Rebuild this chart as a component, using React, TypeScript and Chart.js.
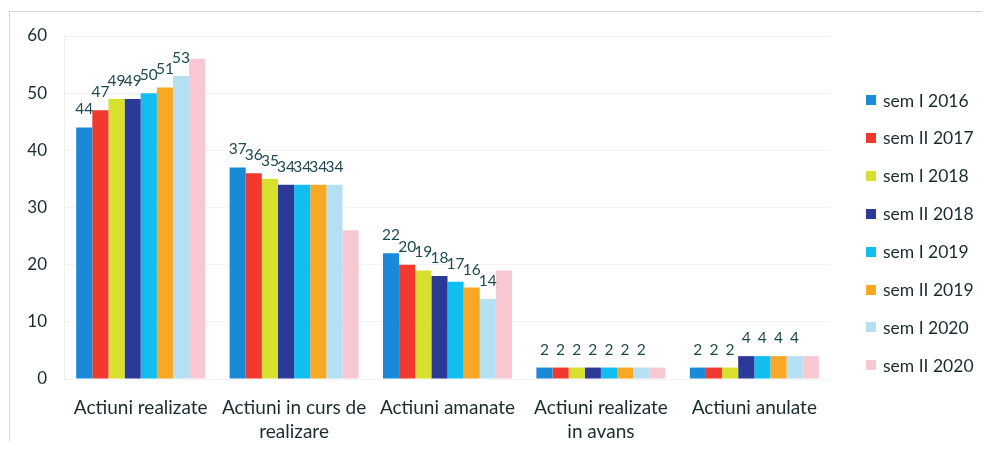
import React, { useEffect, useRef } from "react";
import { Chart, registerables } from "chart.js";

Chart.register(...registerables);

const categories: (string | string[])[] = [
  "Actiuni realizate",
  ["Actiuni in curs de", "realizare"],
  "Actiuni amanate",
  ["Actiuni realizate", "in avans"],
  "Actiuni anulate",
];

const seriesNames = [
  "sem I 2016",
  "sem II 2017",
  "sem I 2018",
  "sem II 2018",
  "sem I 2019",
  "sem II 2019",
  "sem I 2020",
  "sem II 2020",
];

const semI2016 = [44, 37, 22, 2, 2];
const semII2017 = [47, 36, 20, 2, 2];
const semI2018 = [49, 35, 19, 2, 2];
const semII2018 = [49, 34, 18, 2, 4];
const semI2019 = [50, 34, 17, 2, 4];
const semII2019 = [51, 34, 16, 2, 4];
const semI2020 = [53, 34, 14, 2, 4];
const semII2020 = [56, 26, 19, 2, 4];

const seriesValues = [semI2016, semII2017, semI2018, semII2018, semI2019, semII2019, semI2020, semII2020];

const seriesColors = [
  "#1a8ad8",
  "#f03a30",
  "#d7e02e",
  "#2b3a98",
  "#12bdf0",
  "#f9a825",
  "#b5e0f4",
  "#f8c8d2",
];

// which series show a value label
const labelledSeries = [true, true, true, true, true, true, true, false];

const yTicks = [0, 10, 20, 30, 40, 50, 60];

const FONT = "Lato, 'Open Sans', sans-serif";
const TEXT = "#1a2c2f";

const valueLabels = {
  id: "valueLabels",
  afterDatasetsDraw(chart: any) {
    const ctx = chart.ctx;
    ctx.save();
    ctx.font = `15.5px ${FONT}`;
    ctx.fillStyle = "#1d4a52";
    ctx.textAlign = "center";
    ctx.textBaseline = "alphabetic";
    chart.data.datasets.forEach((ds: any, i: number) => {
      if (!labelledSeries[i]) return;
      const meta = chart.getDatasetMeta(i);
      meta.data.forEach((bar: any, j: number) => {
        ctx.fillText(String(ds.data[j]), bar.x, bar.y - 13);
      });
    });
    ctx.restore();
  },
};

export default function App() {
  const ref = useRef<HTMLCanvasElement | null>(null);

  useEffect(() => {
    if (!ref.current) return;
    const chart = new Chart(ref.current, {
      type: "bar",
      data: {
        labels: categories,
        datasets: seriesNames.map((name, i) => ({
          label: name,
          data: seriesValues[i],
          backgroundColor: seriesColors[i],
          borderWidth: 0,
          barPercentage: 1,
          categoryPercentage: 0.841,
        })),
      },
      plugins: [valueLabels],
      options: {
        animation: false,
        responsive: false,
        maintainAspectRatio: false,
        layout: { padding: { left: 0, right: 159, top: 28, bottom: 0 } },
        plugins: {
          legend: { display: false },
          tooltip: { enabled: false },
        },
        scales: {
          x: {
            grid: { display: true, drawOnChartArea: false, drawTicks: false, color: "#eeeeee" },
            border: { display: false },
            ticks: {
              color: TEXT,
              font: { family: FONT, size: 19, lineHeight: 1.26 },
              padding: 17,
              maxRotation: 0,
              autoSkip: false,
            },
            afterFit(scale: any) {
              scale.height = 62;
            },
          },
          y: {
            min: 0,
            max: 60,
            afterBuildTicks(scale: any) {
              scale.ticks = yTicks.map((v) => ({ value: v }));
            },
            grid: { color: "#f3f3f3", drawTicks: false },
            border: { display: true, color: "#eeeeee" },
            ticks: {
              color: TEXT,
              font: { family: FONT, size: 17 },
              padding: 17,
            },
            afterFit(scale: any) {
              scale.width = 56;
            },
          },
        },
      },
    });
    return () => chart.destroy();
  }, []);

  return (
    <div style={{ position: "relative", width: 982, height: 433, overflow: "hidden" }}>
      <div
        style={{
          position: "absolute",
          left: 1,
          top: 3,
          width: 990,
          height: 440,
          borderTop: "1px solid #d3d7dc",
          borderLeft: "1px solid #d3d7dc",
        }}
      />
      <canvas ref={ref} width={982} height={433} style={{ position: "absolute", left: 0, top: 0 }} />
      {seriesNames.map((name, i) => (
        <div
          key={name}
          style={{
            position: "absolute",
            left: 858,
            top: 92 + i * 37.9 - 11,
            height: 22,
            display: "flex",
            alignItems: "center",
            fontFamily: FONT,
            fontSize: 17.5,
            color: TEXT,
            whiteSpace: "nowrap",
          }}
        >
          <span
            style={{
              display: "inline-block",
              width: 10,
              height: 10,
              background: seriesColors[i],
              marginRight: 7,
            }}
          />
          <span>{name}</span>
        </div>
      ))}
    </div>
  );
}
